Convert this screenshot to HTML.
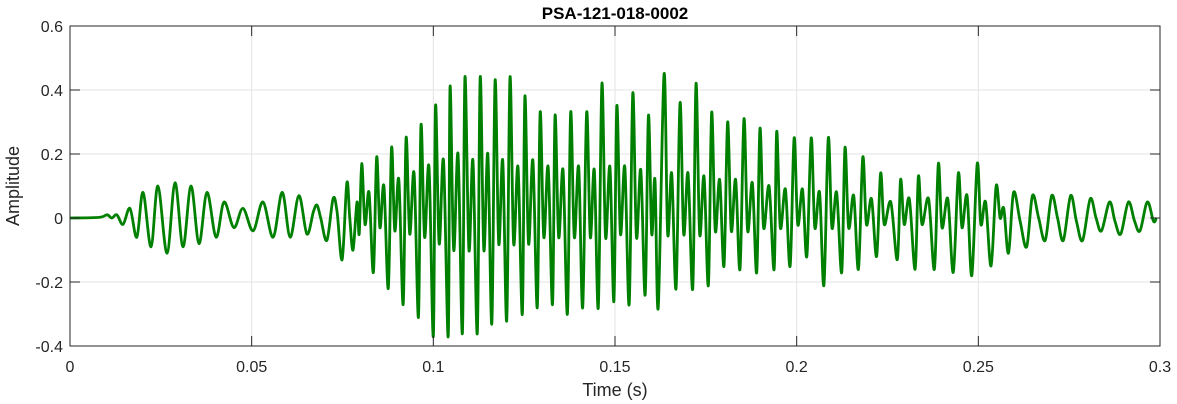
<!DOCTYPE html>
<html><head><meta charset="utf-8"><style>
html,body{margin:0;padding:0;background:#fff;}
svg{display:block;font-family:"Liberation Sans",Arial,sans-serif;}
</style></head><body>
<svg id="chart" width="1177" height="404" viewBox="0 0 1177 404"></svg>
<script>
const xTicks = [0, 0.05, 0.1, 0.15, 0.2, 0.25, 0.3];
const xTickLabels = ["0", "0.05", "0.1", "0.15", "0.2", "0.25", "0.3"];
const yTicks = [0.6, 0.4, 0.2, 0, -0.2, -0.4];
const yTickLabels = ["0.6", "0.4", "0.2", "0", "-0.2", "-0.4"];
// time in milliseconds
const timeMs = [0,8,10.2,11.5,12.9,14.6,16.5,18.4,20.1,22.3,24.2,26.7,28.9,31.1,33.3,35.5,37.7,40.2,42.4,45.1,47.6,50.4,53.1,55.9,58.4,60.6,63.0,65.2,67.0,68.0,69.0,70.7,72.4,73.5,74.9,76.2,77.0,77.9,79.0,79.6,
80.3,81.2,82.3,83.5,84.4,85.3,86.4,87.6,88.5,89.4,90.5,91.7,92.5,93.5,94.7,95.9,96.6,97.6,98.8,100.0,100.6,101.6,102.8,104.1,104.6,105.6,106.8,108.0,108.7,109.8,110.9,112.1,112.9,113.9,115.0,116.1,117.0,118.0,119.1,120.2,121.1,122.1,123.3,124.5,125.2,126.2,127.4,128.6,129.4,130.4,131.6,132.8,133.5,134.5,135.7,136.9,137.8,138.8,140.0,141.1,142.2,143.2,144.3,145.4,146.4,147.4,148.6,149.7,150.5,151.5,152.7,153.9,154.9,155.9,157.1,158.3,159.2,160.1,161.0,161.9,163.5,164.5,165.6,166.8,167.9,168.9,170.1,171.4,172.3,173.3,174.5,175.7,176.6,177.6,178.8,180.0,181.0,182.0,183.2,184.4,185.5,186.5,187.8,189.0,189.9,190.9,192.4,193.8,194.5,195.5,196.9,198.2,199.3,200.3,201.6,202.8,204.0,205.0,206.3,207.5,208.7,209.7,211.0,212.4,213.3,214.3,215.7,217.0,218.2,219.2,220.6,222.0,223.1,224.1,225.9,227.7,228.6,229.6,231.0,232.6,233.5,234.5,236.3,237.9,239.0,240.0,241.6,243.1,244.5,245.5,246.9,248.2,249.7,250.7,252.0,253.5,254.9,256.0,257.0,258.3,259.7,261.5,263.3,264.9,266.6,268.4,270.2,271.8,273.4,275.4,277.0,278.7,280.8,282.4,283.9,286.1,287.6,289.2,291.3,293.0,294.5,296.5,298.2,299];
const amplitude = [0,0.002,0.01,0.0,0.01,-0.02,0.03,-0.06,0.08,-0.09,0.10,-0.11,0.11,-0.09,0.10,-0.08,0.08,-0.06,0.05,-0.03,0.03,-0.04,0.05,-0.06,0.08,-0.06,0.07,-0.05,0.02,0.04,0.0,-0.07,0.06,0.02,-0.13,0.11,0.0,-0.10,0.05,-0.05,
0.17,-0.02,0.08,-0.17,0.19,-0.03,0.10,-0.22,0.22,-0.04,0.12,-0.27,0.25,-0.05,0.14,-0.31,0.29,-0.06,0.16,-0.37,0.35,-0.08,0.18,-0.37,0.41,-0.1,0.2,-0.36,0.44,-0.1,0.18,-0.36,0.44,-0.1,0.2,-0.33,0.43,-0.08,0.18,-0.32,0.44,-0.08,0.16,-0.30,0.38,-0.08,0.18,-0.28,0.33,-0.06,0.16,-0.27,0.32,-0.06,0.15,-0.30,0.33,-0.06,0.16,-0.28,0.33,-0.06,0.15,-0.28,0.42,-0.06,0.16,-0.26,0.35,-0.05,0.16,-0.27,0.39,-0.06,0.15,-0.24,0.32,-0.05,0.12,-0.28,0.45,-0.05,0.14,-0.22,0.36,-0.05,0.14,-0.22,0.42,-0.05,0.13,-0.21,0.33,-0.04,0.12,-0.15,0.30,-0.04,0.12,-0.16,0.31,-0.04,0.11,-0.17,0.28,-0.03,0.10,-0.16,0.27,-0.03,0.09,-0.15,0.25,-0.02,0.09,-0.12,0.25,-0.03,0.08,-0.21,0.25,-0.03,0.08,-0.17,0.22,-0.03,0.07,-0.16,0.19,-0.02,0.06,-0.12,0.14,-0.02,0.05,-0.13,0.12,-0.02,0.06,-0.16,0.13,-0.02,0.06,-0.16,0.17,-0.03,0.06,-0.17,0.14,-0.03,0.07,-0.18,0.17,-0.02,0.05,-0.15,0.10,0.0,0.03,-0.11,0.08,-0.01,-0.09,0.07,0.0,-0.07,0.07,0.0,-0.07,0.07,-0.01,-0.07,0.06,0.0,-0.04,0.05,-0.01,-0.05,0.05,-0.01,-0.04,0.05,-0.01,0.0];

const NS = "http://www.w3.org/2000/svg";
const svg = document.getElementById("chart");
const L = 70, R = 1160, T = 26, B = 346;
const xMin = 0, xMax = 0.3, yMin = -0.4, yMax = 0.6;
function xScale(v){ return L + (v - xMin) / (xMax - xMin) * (R - L); }
function yScale(v){ return B - (v - yMin) / (yMax - yMin) * (B - T); }
function mk(tag, attrs, parent){
  const e = document.createElementNS(NS, tag);
  for (const k in attrs) e.setAttribute(k, attrs[k]);
  (parent || svg).appendChild(e);
  return e;
}
const grid = mk("g", {});


xTicks.forEach(v => { mk("line", {x1: xScale(v), x2: xScale(v), y1: T, y2: B, stroke: "#e3e3e3", "stroke-width": 1}, grid); });
yTicks.forEach(v => { mk("line", {x1: L, x2: R, y1: yScale(v), y2: yScale(v), stroke: "#e3e3e3", "stroke-width": 1}, grid); });

// series drawn as a smooth (Catmull-Rom) curve through the data points
const pts = timeMs.map((t, i) => [xScale(t / 1000), yScale(amplitude[i])]);
let d = "M" + pts[0][0].toFixed(2) + "," + pts[0][1].toFixed(2);
for (let i = 0; i < pts.length - 1; i++) {
  const p0 = pts[Math.max(0, i - 1)], p1 = pts[i], p2 = pts[i + 1], p3 = pts[Math.min(pts.length - 1, i + 2)];
  const c1x = p1[0] + (p2[0] - p0[0]) / 6, c1y = p1[1] + (p2[1] - p0[1]) / 6;
  const c2x = p2[0] - (p3[0] - p1[0]) / 6, c2y = p2[1] - (p3[1] - p1[1]) / 6;
  d += "C" + c1x.toFixed(2) + "," + c1y.toFixed(2) + " " + c2x.toFixed(2) + "," + c2y.toFixed(2) + " " + p2[0].toFixed(2) + "," + p2[1].toFixed(2);
}
const line = mk("path", {d: d, fill: "none", stroke: "#008000", "stroke-width": 2.8, "stroke-linejoin": "round"});



// axes box
const box = mk("rect", {x: L, y: T, width: R - L, height: B - T, fill: "none", stroke: "#262626", "stroke-width": 1});



const xt = mk("g", {});


xTicks.forEach((v, i) => {
  mk("line", {x1: xScale(v), x2: xScale(v), y1: B, y2: B - 10, stroke: "#262626"}, xt);
  mk("line", {x1: xScale(v), x2: xScale(v), y1: T, y2: T + 10, stroke: "#262626"}, xt);
  const t = mk("text", {x: xScale(v), y: 372, "text-anchor": "middle", "font-size": 16, fill: "#262626"}, xt);
  t.textContent = xTickLabels[i];
});
const yt = mk("g", {});


yTicks.forEach((v, i) => {
  mk("line", {x1: L, x2: L + 10, y1: yScale(v), y2: yScale(v), stroke: "#262626"}, yt);
  mk("line", {x1: R, x2: R - 10, y1: yScale(v), y2: yScale(v), stroke: "#262626"}, yt);
  const t = mk("text", {x: 63, y: yScale(v) + 6, "text-anchor": "end", "font-size": 16, fill: "#262626"}, yt);
  t.textContent = yTickLabels[i];
});
const title = mk("text", {x: 615, y: 19, "text-anchor": "middle", "font-size": 17, "font-weight": "bold", fill: "#000"});


title.textContent = "PSA-121-018-0002";
const xl = mk("text", {x: 615, y: 396, "text-anchor": "middle", "font-size": 18, fill: "#262626"});


xl.textContent = "Time (s)";
const yl = mk("text", {x: 0, y: 0, "text-anchor": "middle", "font-size": 18, fill: "#262626", transform: "translate(19,186) rotate(-90)"});


yl.textContent = "Amplitude";
</script>
</body></html>
